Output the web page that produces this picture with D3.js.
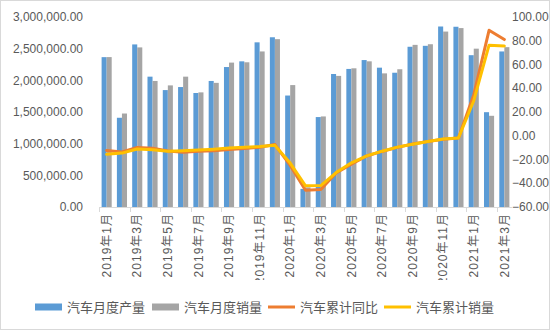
<!DOCTYPE html>
<html><head><meta charset="utf-8">
<script src="https://cdn.jsdelivr.net/npm/d3@7"></script>
<style>
html,body{margin:0;padding:0;background:#fff;}
svg text{font-family:"Liberation Sans","Noto Sans CJK SC",sans-serif;fill:#595959;}
</style></head>
<body><svg id="c" width="550" height="330"></svg>
<script>
const months = ["2019年1月","2019年2月","2019年3月","2019年4月","2019年5月","2019年6月","2019年7月","2019年8月","2019年9月","2019年10月","2019年11月","2019年12月",
"2020年1月","2020年2月","2020年3月","2020年4月","2020年5月","2020年6月","2020年7月","2020年8月","2020年9月","2020年10月","2020年11月","2020年12月",
"2021年1月","2021年2月","2021年3月"];
const production = [2366000,1409000,2567000,2058000,1846000,1894000,1800000,1990000,2210000,2300000,2600000,2680000,
1760000,286000,1420000,2100000,2180000,2320000,2200000,2120000,2530000,2545000,2850000,2846000,
2397000,1497000,2456000];
const sales = [2367000,1476000,2520000,1990000,1920000,2058000,1810000,1960000,2280000,2285000,2456000,2650000,
1925000,310000,1430000,2070000,2190000,2300000,2110000,2175000,2560000,2570000,2770000,2825000,
2500000,1440000,2524000];
const prodYoY = [-12.4,-13.6,-9.9,-10.5,-12.9,-13.8,-13.0,-12.6,-11.5,-10.8,-9.6,-7.4,
-25.0,-45.8,-45.2,-31.4,-24.0,-17.0,-13.2,-9.8,-7.0,-4.8,-3.0,-1.8,
34.6,88.8,81.0];
const salesYoY = [-15.6,-14.6,-11.2,-11.8,-13.1,-12.6,-12.0,-11.3,-10.4,-9.7,-9.1,-8.1,
-23.0,-42.2,-42.0,-31.0,-22.8,-16.9,-13.0,-9.6,-7.2,-4.8,-2.8,-1.8,
29.5,76.3,75.6];
const leftTicks = [0,500000,1000000,1500000,2000000,2500000,3000000];
const rightTicks = [-60,-40,-20,0,20,40,60,80,100];
const seriesNames = ["汽车月度产量","汽车月度销量","汽车累计同比","汽车累计销量"];
const colors = ["#5B9BD5","#A5A5A5","#ED7D31","#FFC000"];

const svg = d3.select("#c");
svg.append("rect").attr("x",0.5).attr("y",0.5).attr("width",549).attr("height",329)
  .attr("fill","#fff").attr("stroke","#d9d9d9");

const L = 99, R = 512, T = 17, B = 207;
const x = d3.scaleBand().domain(months).range([L,R]).paddingInner(0).paddingOuter(0);
const yL = d3.scaleLinear().domain([0,3000000]).range([B,T]);
const yR = d3.scaleLinear().domain([-60,100]).range([B,T]);
const bw = x.bandwidth()*0.33;

// bars
const g = svg.append("g");
g.selectAll(".p").data(months).enter().append("rect")
  .attr("x",(d)=>x(d)+x.bandwidth()/2-bw)
  .attr("y",(d,i)=>yL(production[i]))
  .attr("width",bw).attr("height",(d,i)=>B-yL(production[i]))
  .attr("fill",colors[0]);
g.selectAll(".s").data(months).enter().append("rect")
  .attr("x",(d)=>x(d)+x.bandwidth()/2)
  .attr("y",(d,i)=>yL(sales[i]))
  .attr("width",bw).attr("height",(d,i)=>B-yL(sales[i]))
  .attr("fill",colors[1]);

// x axis line
svg.append("line").attr("x1",L).attr("x2",R).attr("y1",B+0.5).attr("y2",B+0.5)
  .attr("stroke","#d9d9d9").attr("stroke-width",1);
const tickIdx = d3.range(0,months.length+1,2);
svg.selectAll(".tk").data(tickIdx).enter().append("line")
  .attr("x1",(i)=>Math.round(L+i*x.step())+0.5).attr("x2",(i)=>Math.round(L+i*x.step())+0.5)
  .attr("y1",B).attr("y2",B+5).attr("stroke","#d9d9d9");

// lines
const line = (arr)=>d3.line().x((d,i)=>x(months[i])+x.bandwidth()/2).y((d)=>yR(d))(arr);
svg.append("path").attr("d",line(prodYoY)).attr("fill","none")
  .attr("stroke",colors[2]).attr("stroke-width",3).attr("stroke-linejoin","round").attr("stroke-linecap","round");
svg.append("path").attr("d",line(salesYoY)).attr("fill","none")
  .attr("stroke",colors[3]).attr("stroke-width",3).attr("stroke-linejoin","round").attr("stroke-linecap","round");

// left axis labels
const fmtL = d3.format(",.2f");
svg.selectAll(".yl").data(leftTicks).enter().append("text")
  .attr("x",83).attr("y",(d)=>yL(d)).attr("dy","0.35em").attr("text-anchor","end")
  .attr("font-size",12).text((d)=>fmtL(d));
// right axis labels
const fmtR = d3.format(".2f");
svg.selectAll(".yr").data(rightTicks).enter().append("text")
  .attr("x",512).attr("y",(d)=>yR(d)).attr("dy","0.35em").attr("text-anchor","start")
  .attr("font-size",12).text((d)=>fmtR(d));

// x labels
svg.append("clipPath").attr("id","xc").append("rect").attr("x",0).attr("y",0).attr("width",550).attr("height",280);
const xl = svg.append("g").attr("clip-path","url(#xc)");
xl.selectAll(".xl").data(months.filter((d,i)=>i%2===0)).enter().append("text")
  .attr("transform",(d)=>`translate(${x(d)+x.bandwidth()/2},213) rotate(-90)`)
  .attr("dy","0.35em").attr("text-anchor","end").attr("font-size",12)
  .attr("letter-spacing","1px").text((d)=>d);

// legend
const lg = svg.append("g").attr("transform","translate(0,307)");
const items = [
  {x:35,type:"rect",c:colors[0],t:seriesNames[0],tx:67},
  {x:152,type:"rect",c:colors[1],t:seriesNames[1],tx:184},
  {x:268,type:"line",c:colors[2],t:seriesNames[2],tx:300},
  {x:384,type:"line",c:colors[3],t:seriesNames[3],tx:416}
];
items.forEach(it=>{
  if(it.type==="rect") lg.append("rect").attr("x",it.x).attr("y",-3.5).attr("width",27).attr("height",7).attr("fill",it.c);
  else lg.append("line").attr("x1",it.x).attr("x2",it.x+27).attr("y1",0).attr("y2",0).attr("stroke",it.c).attr("stroke-width",3);
  lg.append("text").attr("x",it.tx).attr("y",0).attr("dy","0.35em").attr("font-size",13)
    .style("font-family","'Noto Sans CJK SC',sans-serif").text(it.t);
});
</script></body></html>
